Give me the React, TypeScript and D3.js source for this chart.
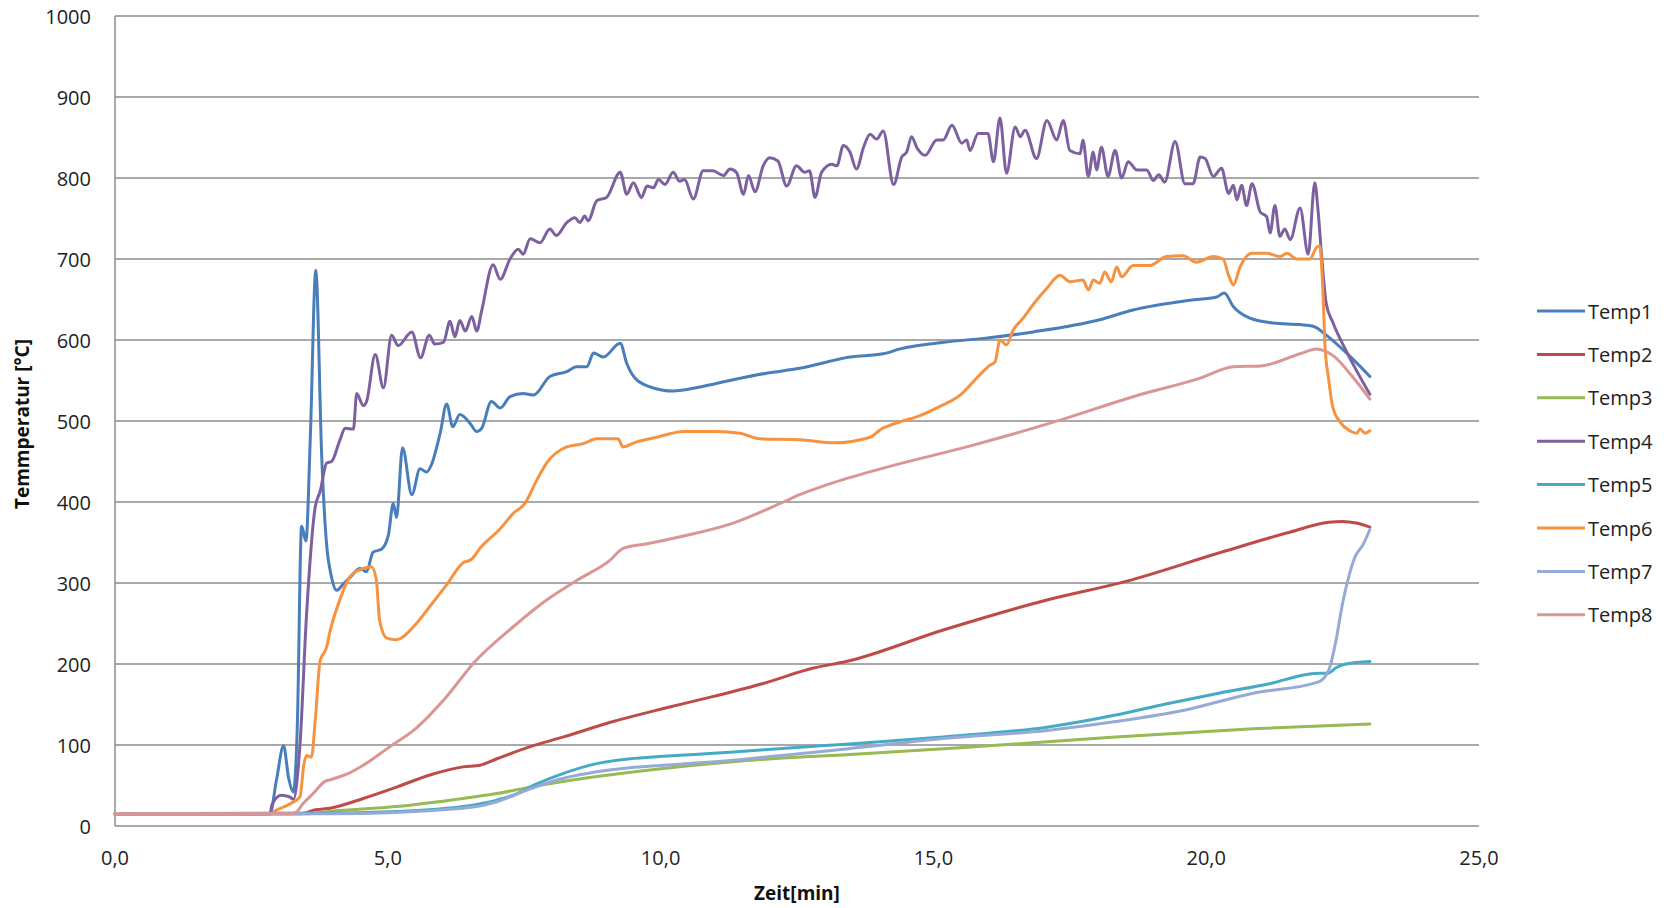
import { useEffect } from "react";
import * as d3 from "d3";

type Pt = [number, number];

// Zeit [min], Temperatur [°C]
const temp1: Pt[] = [
  [0, 15], [2.84, 15], [2.96, 57], [3.09, 99], [3.18, 60], [3.27, 42], [3.34, 120], [3.42, 370], [3.5, 352],
  [3.58, 480], [3.68, 686], [3.79, 454], [3.88, 346], [3.96, 310], [4.06, 291], [4.2, 300], [4.31, 307],
  [4.49, 318], [4.61, 314], [4.73, 338], [4.89, 342], [5.01, 359], [5.1, 398], [5.16, 381], [5.27, 467],
  [5.44, 409], [5.59, 441], [5.71, 437], [5.8, 446], [5.96, 485], [6.08, 521], [6.19, 493], [6.32, 508],
  [6.51, 497], [6.63, 487], [6.72, 491], [6.9, 524], [7.06, 516], [7.24, 530], [7.48, 534], [7.67, 532],
  [7.97, 555], [8.28, 561], [8.46, 567], [8.65, 567], [8.77, 584], [8.95, 579], [9.26, 596], [9.38, 571],
  [9.53, 553], [9.81, 542], [10.23, 537], [10.72, 542], [11.33, 551], [11.94, 559], [12.55, 565],
  [13.47, 579], [14.08, 583], [14.39, 589], [15.3, 598], [15.92, 602], [16.83, 610], [18.05, 625],
  [18.66, 637], [19.7, 649], [20.19, 653], [20.33, 658], [20.5, 641], [20.8, 627], [21.23, 621],
  [21.72, 619], [21.96, 617], [22.2, 606], [22.57, 584], [23.0, 555],
];

const temp2: Pt[] = [
  [0, 15], [3.4, 15], [3.67, 20], [3.94, 22], [4.55, 34], [5.16, 48], [5.77, 63], [6.38, 73], [6.69, 75],
  [7.0, 83], [7.61, 98], [8.22, 110], [9.13, 129], [10.05, 145], [10.97, 160], [11.88, 176], [12.8, 195],
  [13.4, 203], [15.18, 242], [17.08, 279], [18.53, 302], [20.23, 337], [21.49, 362], [22.25, 375],
  [22.5, 376], [22.75, 374], [23.0, 369],
];

const temp3: Pt[] = [
  [0, 15], [3.5, 15], [3.94, 18], [5.16, 24], [6.38, 34], [7.0, 40], [7.61, 48], [8.83, 61], [10.05, 71],
  [11.27, 79], [12.49, 85], [13.4, 88], [15.81, 98], [18.34, 110], [20.86, 120], [23.0, 126],
];

const temp4: Pt[] = [
  [0, 15], [2.84, 15], [2.88, 27], [3.05, 38], [3.2, 36], [3.27, 33], [3.39, 100], [3.51, 260], [3.67, 394],
  [3.76, 413], [3.88, 448], [3.97, 450], [4.12, 476], [4.22, 491], [4.37, 490], [4.43, 534], [4.55, 519],
  [4.61, 524], [4.77, 582], [4.92, 541], [5.07, 606], [5.19, 593], [5.44, 610], [5.6, 578], [5.76, 606],
  [5.86, 595], [6.02, 597], [6.14, 623], [6.23, 604], [6.32, 624], [6.42, 611], [6.54, 629], [6.63, 611],
  [6.72, 636], [6.93, 693], [7.06, 675], [7.24, 700], [7.39, 712], [7.48, 706], [7.61, 725], [7.79, 720],
  [7.97, 737], [8.09, 729], [8.28, 745], [8.43, 751], [8.52, 745], [8.61, 753], [8.67, 747], [8.83, 772],
  [9.01, 776], [9.26, 807], [9.38, 780], [9.5, 794], [9.65, 776], [9.75, 790], [9.87, 788], [9.96, 798],
  [10.08, 792], [10.23, 807], [10.35, 796], [10.44, 798], [10.6, 774], [10.78, 809], [10.96, 809],
  [11.15, 803], [11.27, 811], [11.39, 807], [11.52, 780], [11.61, 803], [11.73, 783], [11.88, 815],
  [12.0, 825], [12.15, 821], [12.31, 790], [12.49, 815], [12.64, 807], [12.73, 809], [12.83, 776],
  [12.95, 807], [13.14, 817], [13.23, 815], [13.35, 840], [13.47, 832], [13.59, 811], [13.72, 838],
  [13.84, 854], [13.96, 848], [14.08, 858], [14.27, 792], [14.42, 826], [14.51, 832], [14.6, 851],
  [14.7, 837], [14.85, 828], [15.06, 847], [15.18, 847], [15.34, 865], [15.52, 843], [15.61, 847],
  [15.67, 834], [15.82, 855], [16.0, 855], [16.1, 820], [16.22, 874], [16.34, 806], [16.5, 863],
  [16.59, 851], [16.68, 859], [16.89, 824], [17.08, 871], [17.26, 847], [17.38, 871], [17.5, 834],
  [17.69, 830], [17.74, 847], [17.84, 802], [17.93, 832], [17.99, 810], [18.08, 838], [18.2, 802],
  [18.33, 834], [18.45, 800], [18.57, 820], [18.73, 810], [18.91, 810], [19.03, 797], [19.13, 804],
  [19.24, 795], [19.43, 845], [19.61, 793], [19.76, 793], [19.89, 826], [19.98, 824], [20.13, 802],
  [20.28, 812], [20.41, 781], [20.5, 791], [20.56, 773], [20.65, 791], [20.74, 766], [20.84, 793],
  [20.99, 758], [21.11, 752], [21.17, 732], [21.26, 766], [21.35, 728], [21.44, 737], [21.54, 724],
  [21.72, 763], [21.87, 706], [21.99, 794], [22.05, 760], [22.12, 700], [22.2, 645], [22.32, 622],
  [22.57, 586], [23.0, 533],
];

const temp5: Pt[] = [
  [0, 15], [3.94, 16], [5.16, 18], [6.38, 24], [7.0, 32], [7.3, 38], [7.73, 52], [8.22, 65], [8.83, 77],
  [9.44, 83], [10.05, 86], [11.27, 91], [12.49, 97], [13.4, 101], [15.18, 110], [17.08, 122], [18.34, 137],
  [19.28, 151], [20.23, 164], [21.18, 176], [21.93, 188], [22.25, 189], [22.37, 195], [22.56, 200],
  [23.0, 203],
];

const temp6: Pt[] = [
  [0, 15], [2.84, 15], [2.97, 20], [3.2, 27], [3.39, 36], [3.46, 75], [3.51, 87], [3.6, 85], [3.67, 130],
  [3.76, 204], [3.88, 221], [3.94, 240], [4.12, 279], [4.31, 308], [4.55, 318], [4.7, 320], [4.79, 304],
  [4.85, 254], [4.98, 232], [5.16, 230], [5.47, 246], [5.77, 271], [6.08, 298], [6.38, 325], [6.53, 329],
  [6.69, 343], [7.06, 367], [7.3, 386], [7.51, 398], [7.73, 427], [7.91, 448], [8.28, 468], [8.58, 472],
  [8.83, 478], [9.22, 478], [9.31, 468], [9.55, 474], [9.93, 480], [10.42, 487], [11.03, 487],
  [11.45, 485], [11.82, 478], [12.55, 477], [13.17, 473], [13.84, 480], [14.02, 489], [14.39, 499],
  [14.69, 505], [15.12, 518], [15.49, 532], [15.85, 557], [16.04, 569], [16.13, 573], [16.22, 600],
  [16.34, 594], [16.46, 612], [16.62, 625], [16.89, 649], [17.08, 664], [17.32, 680], [17.5, 672],
  [17.74, 674], [17.84, 662], [17.93, 674], [18.05, 670], [18.14, 684], [18.26, 672], [18.36, 690],
  [18.45, 678], [18.66, 692], [18.97, 692], [19.27, 703], [19.58, 704], [19.82, 696], [20.13, 703],
  [20.31, 700], [20.41, 680], [20.5, 668], [20.62, 690], [20.84, 707], [21.11, 707], [21.35, 703],
  [21.48, 707], [21.66, 700], [21.9, 700], [22.02, 714], [22.08, 716], [22.14, 659], [22.18, 590],
  [22.24, 554], [22.32, 517], [22.45, 499], [22.63, 488], [22.76, 485], [22.82, 490], [22.91, 485],
  [23.0, 488],
];

const temp7: Pt[] = [
  [0, 15], [3.94, 15], [6.38, 22], [7.0, 30], [7.61, 46], [8.22, 59], [8.83, 67], [9.44, 72], [10.05, 75],
  [11.27, 81], [12.49, 89], [13.4, 95], [15.18, 108], [17.08, 118], [18.34, 129], [19.6, 143], [20.86, 164],
  [22.06, 178], [22.25, 193], [22.37, 226], [22.5, 275], [22.63, 312], [22.72, 331], [22.88, 348],
  [23.0, 366],
];

const temp8: Pt[] = [
  [0, 15], [3.2, 15], [3.3, 16], [3.45, 28], [3.63, 40], [3.85, 55], [3.94, 57], [4.31, 66], [4.55, 75],
  [5.04, 98], [5.47, 118], [6.08, 160], [6.57, 201], [7.3, 246], [7.91, 279], [8.46, 303], [9.07, 328],
  [9.32, 343], [9.8, 349], [10.42, 358], [11.33, 374], [12.25, 400], [12.55, 409], [13.17, 424],
  [14.2, 444], [15.61, 468], [17.32, 501], [18.66, 530], [19.89, 553], [20.5, 567], [21.0, 568],
  [21.72, 583], [22.02, 589], [22.32, 581], [22.69, 554], [23.0, 527],
];

const seriesNames = ["Temp1", "Temp2", "Temp3", "Temp4", "Temp5", "Temp6", "Temp7", "Temp8"];
const seriesData = [temp1, temp2, temp3, temp4, temp5, temp6, temp7, temp8];
const seriesColors = ["#4A7EBB", "#BE4B48", "#98B954", "#7D60A0", "#46AAC5", "#F69240", "#95ABD6", "#D99694"];

const xTicks = [0, 5, 10, 15, 20, 25];
const yTicks = [0, 100, 200, 300, 400, 500, 600, 700, 800, 900, 1000];

const FONT = "'Open Sans', 'Noto Sans', sans-serif";

export default function App() {
  useEffect(() => {
    document.body.style.margin = "0";
    document.body.style.overflow = "hidden";
  }, []);

  const width = 1677;
  const height = 908;
  const margin = { top: 16, right: 198, bottom: 82, left: 115 };

  const x = d3.scaleLinear().domain([0, 25]).range([margin.left, width - margin.right]);
  const y = d3.scaleLinear().domain([0, 1000]).range([height - margin.bottom, margin.top]);

  const line = d3
    .line<Pt>()
    .x((d) => x(d[0]))
    .y((d) => y(d[1]))
    .curve(d3.curveMonotoneX);

  const fmtX = (v: number) => d3.format(".1f")(v).replace(".", ",");
  const gridColor = "#8c8c8c";

  return (
    <svg width={width} height={height} style={{ display: "block", background: "#fff" }} fontFamily={FONT}>
      {/* gridlines */}
      {yTicks.map((t) => (
        <line key={"g" + t} x1={x(0)} x2={x(25)} y1={y(t)} y2={y(t)} stroke={gridColor} strokeWidth={1.5} />
      ))}
      <line x1={x(0)} x2={x(0)} y1={y(0)} y2={y(1000)} stroke={gridColor} strokeWidth={1.5} />

      {/* y tick labels */}
      {yTicks.map((t) => (
        <text key={"y" + t} x={91} y={y(t)} textAnchor="end" dominantBaseline="central" fontSize={20} fill="#222">
          {t}
        </text>
      ))}

      {/* x tick labels */}
      {xTicks.map((t) => (
        <text key={"x" + t} x={x(t)} y={857} textAnchor="middle" dominantBaseline="central" fontSize={20} fill="#222">
          {fmtX(t)}
        </text>
      ))}

      {/* axis titles */}
      <text
        x={22}
        y={424}
        transform="rotate(-90, 22, 424)"
        textAnchor="middle"
        dominantBaseline="central"
        fontSize={19}
        fontWeight="bold"
        fill="#111"
      >
        Temmperatur [°C]
      </text>
      <text x={797} y={893} textAnchor="middle" dominantBaseline="central" fontSize={19} fontWeight="bold" fill="#111">
        Zeit[min]
      </text>

      {/* series */}
      {seriesData.map((d, i) => (
        <path
          key={seriesNames[i]}
          d={line(d) ?? ""}
          fill="none"
          stroke={seriesColors[i]}
          strokeWidth={3}
          strokeLinejoin="round"
          strokeLinecap="round"
        />
      ))}

      {/* legend */}
      {seriesNames.map((name, i) => {
        const ly = 311 + i * 43.4;
        return (
          <g key={"l" + name}>
            <line x1={1537} x2={1585} y1={ly} y2={ly} stroke={seriesColors[i]} strokeWidth={3} />
            <text x={1588} y={ly} dominantBaseline="central" fontSize={20} fill="#222">
              {name}
            </text>
          </g>
        );
      })}
    </svg>
  );
}
